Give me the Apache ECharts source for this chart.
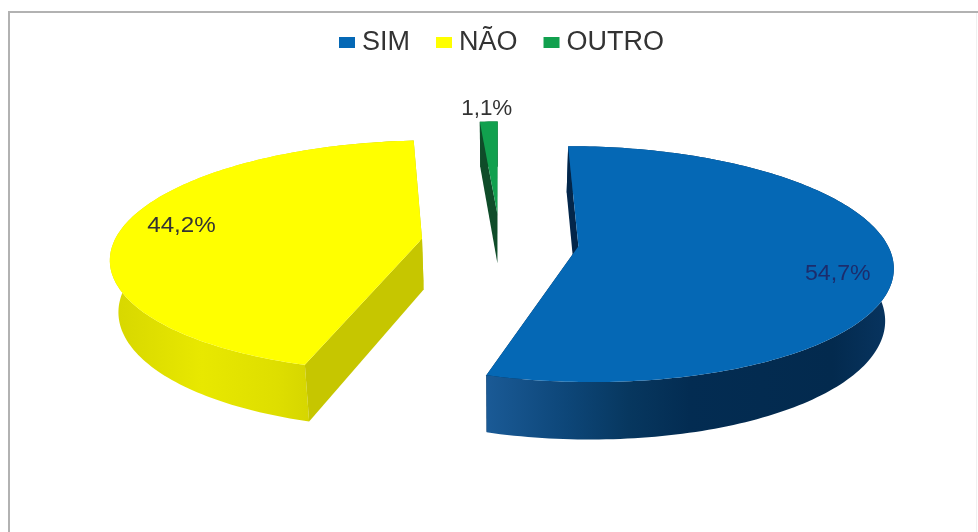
<!DOCTYPE html>
<html>
<head>
<meta charset="utf-8">
<style>html,body{margin:0;padding:0;background:#fff}#chart{width:978px;height:532px}</style>
<script src="https://cdn.jsdelivr.net/npm/echarts@6/dist/echarts.min.js"></script>
</head>
<body>
<div id="chart"></div>
<script>
// Survey answers, in percent, clockwise from twelve o'clock
const categories = ['SIM', 'NÃO', 'OUTRO'];
const values = [54.7, 44.2, 1.1];
const topColors = ['#0568b5', '#ffff00', '#11a04e'];

// Shading of the curved rim and of the flat cut faces of each slice
const rimStops = [
  [[0, '#1a5a96'], [0.2, '#0d4678'], [0.35, '#07375f'], [0.5, '#032c52'], [0.85, '#032a4e'], [1, '#083561']],
  [[0, '#d6d600'], [0.3, '#e8e800'], [0.55, '#dede00'], [0.85, '#c6c600'], [1, '#bcbc00']],
  [[0, '#0b5a2c'], [1, '#0b5a2c']]
];
const wallColors = ['#03264a', '#c6c600', '#0f4c29'];
const labelColors = ['#1c2c6c', '#333333', '#333333'];

// Projection of the tilted disc onto the page
const view = {
  cx: 500, cy: 242,
  radiusX: 308, radiusY: 114,
  perspective: 0.15,
  explode: 0.256,
  depth: 51,
  bottomShrink: 0.978
};
// Label anchor: fraction of the radius along the mid angle, then a nudge in pixels
const labelPlace = [
  { r: 0.82, dx: 2, dy: 13, stretch: 1.05 },
  { r: 0.80, dx: -1, dy: -3, stretch: 1.1 },
  { r: 1.00, dx: -2, dy: -13, stretch: 1.02 }
];

const total = values.reduce((a, b) => a + b, 0);
const startPct = values.map((_, i) => values.slice(0, i).reduce((a, b) => a + b, 0));
const rad = pct => pct / total * Math.PI * 2;

function project(u, v, level) {
  const w = 1 - view.perspective * v;
  let x = view.cx + view.radiusX * u / w;
  let y = view.cy + view.radiusY * v / w;
  if (level === 'bottom') {
    x = view.cx + (x - view.cx) * view.bottomShrink;
    y += view.depth / Math.pow(w, 0.7);
  }
  return [x, y];
}

function renderSlice(index) {
  return function (params, api) {
    const value = api.value(0);
    const a0 = rad(startPct[index]);
    const a1 = a0 + rad(value);
    const mid = (a0 + a1) / 2;
    const ox = view.explode * Math.sin(mid);
    const oy = -view.explode * Math.cos(mid);
    const at = (a, r, level) => project(ox + r * Math.sin(a), oy - r * Math.cos(a), level);

    const steps = Math.max(2, Math.ceil((a1 - a0) / 0.02));
    const arc = level => {
      const pts = [];
      for (let s = 0; s <= steps; s++) pts.push(at(a0 + (a1 - a0) * s / steps, 1, level));
      return pts;
    };
    const topArc = arc('top');
    const bottomArc = arc('bottom');
    const cutFace = a => [at(a, 1, 'top'), at(a, 0, 'top'), at(a, 0, 'bottom'), at(a, 1, 'bottom')];

    // Painted back to front: far cut face, rim, near cut face, top
    const children = [
      { type: 'polygon', shape: { points: cutFace(a1) }, style: { fill: wallColors[index] } },
      {
        type: 'polygon',
        shape: { points: topArc.concat(bottomArc.slice().reverse()) },
        style: {
          fill: {
            type: 'linear', x: 0, y: 0, x2: 1, y2: 0,
            colorStops: rimStops[index].map(s => ({ offset: s[0], color: s[1] }))
          }
        }
      },
      { type: 'polygon', shape: { points: cutFace(a0) }, style: { fill: wallColors[index] } },
      {
        type: 'polygon',
        shape: { points: topArc.concat([at(a0, 0, 'top')]) },
        style: { fill: topColors[index] }
      }
    ];

    const place = labelPlace[index];
    const anchor = at(mid, place.r, 'top');
    children.push({
      type: 'text',
      x: anchor[0] + place.dx,
      y: anchor[1] + place.dy,
      scaleX: place.stretch,
      style: {
        text: value.toFixed(1).replace('.', ',') + '%',
        fontFamily: 'Liberation Sans, Arial, sans-serif',
        fontSize: 22,
        fill: labelColors[index],
        align: 'center',
        verticalAlign: 'middle'
      }
    });
    return { type: 'group', children };
  };
}

const chart = echarts.init(document.getElementById('chart'), null, { renderer: 'canvas' });
chart.setOption({
  animation: false,
  backgroundColor: '#ffffff',
  graphic: [
    {
      type: 'rect',
      shape: { x: 9, y: 12, width: 990, height: 540 },
      style: { fill: 'none', stroke: '#b2b2b2', lineWidth: 2 },
      silent: true
    },
    {
      type: 'line',
      shape: { x1: 976.5, y1: 13, x2: 976.5, y2: 532 },
      style: { stroke: '#f0f0f0', lineWidth: 1 },
      silent: true
    }
  ],
  legend: {
    data: categories,
    left: 334,
    top: 24,
    icon: 'rect',
    itemWidth: 16,
    itemHeight: 11,
    itemGap: 26,
    textStyle: {
      fontFamily: 'Liberation Sans, Arial, sans-serif',
      fontSize: 27,
      color: '#333333',
      padding: [0, 0, 0, 2]
    }
  },
  series: [1, 0, 2].map(i => ({
    type: 'custom',
    name: categories[i],
    coordinateSystem: 'none',
    renderItem: renderSlice(i),
    itemStyle: { color: topColors[i] },
    data: [[values[i]]],
    silent: true
  }))
});
</script>
</body>
</html>
